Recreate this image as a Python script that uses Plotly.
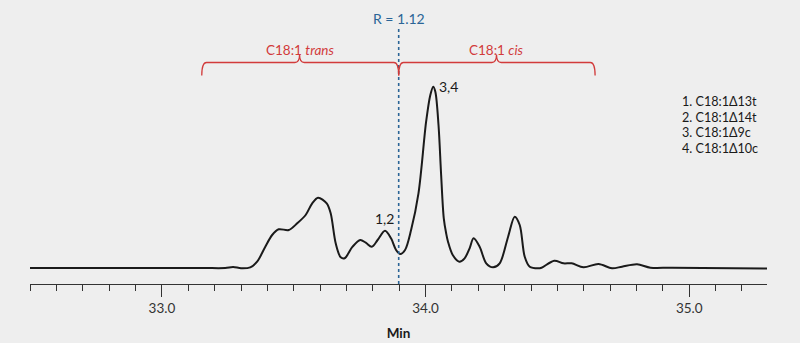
import plotly.graph_objects as go

# Retention time (min) and detector response (arbitrary units)
time_min = [32.4995, 33.15, 33.24, 33.27, 33.30, 33.335, 33.361, 33.392, 33.418, 33.443,
            33.481, 33.513, 33.545, 33.570, 33.592, 33.625, 33.640, 33.659, 33.678, 33.693,
            33.723, 33.752, 33.773, 33.796, 33.818, 33.846, 33.869, 33.888, 33.904, 33.922,
            33.945, 33.973, 34.002, 34.018, 34.029, 34.037, 34.049, 34.059, 34.069, 34.078,
            34.085, 34.103, 34.128, 34.148, 34.167, 34.182, 34.205, 34.230, 34.256, 34.281,
            34.313, 34.338, 34.357, 34.376, 34.395, 34.427, 34.440, 34.488, 34.523, 34.554,
            34.599, 34.656, 34.707, 34.745, 34.802, 34.853, 34.935, 35.295]
response = [0.5, 0.5, 0.5, 1.5, 0.3, 1.2, 6.8, 21.8, 33.5, 39.2,
            38.5, 45.2, 53.5, 65.2, 70.8, 65.2, 55.2, 25.2, 11.2, 10.2,
            21.8, 28.5, 25.8, 21.8, 28.5, 37.8, 30.2, 18.5, 14.5, 18.5,
            38.5, 75.2, 146.8, 173.5, 181.8, 176.8, 143.5, 93.5, 50.2, 35.2,
            26.8, 13.5, 6.8, 10.2, 20.2, 30.2, 21.8, 5.2, 1.2, 5.2,
            31.8, 51.8, 43.5, 11.8, 1.8, 0.2, 0.8, 7.8, 5.2, 5.2,
            1.2, 4.5, 0.2, 1.8, 4.2, 0.8, 0.8, 0.0]

# Peak labels
peak_labels = ["1,2", "3,4"]
peak_times = [33.846, 34.029]
peak_heights = [37.8, 181.8]

# Identification list
compounds = ["1. C18:1Δ13t", "2. C18:1Δ14t", "3. C18:1Δ9c", "4. C18:1Δ10c"]

# Resolution marker and cis/trans groups
resolution_time = 33.898
resolution_text = "R = 1.12"
group_names = ["C18:1 <i>trans</i>", "C18:1 <i>cis</i>"]
group_bounds = [(33.151, 33.898), (33.898, 34.643)]
group_centers = [33.522, 34.269]

RED = "#d23b3b"
BLUE = "#2a6496"
FONT = "Lato"

fig = go.Figure()
fig.add_trace(go.Scatter(
    x=time_min, y=response, mode="lines",
    line=dict(color="#1a1a1a", width=2, shape="spline", smoothing=0.9),
    hoverinfo="skip", showlegend=False,
))

# Dotted resolution line
fig.add_shape(type="line", xref="x", yref="y",
              x0=resolution_time, x1=resolution_time, y0=-15.5, y1=240,
              line=dict(color=BLUE, width=1.6, dash="dot"))
fig.add_annotation(x=resolution_time, y=250.5, xref="x", yref="y",
                   text=resolution_text, showarrow=False,
                   font=dict(family=FONT, size=14, color=BLUE),
                   xanchor="center", yanchor="middle")

# Curly braces for the trans / cis groups
line_y, end_y, cusp_y = 206.0, 193.0, 214.0
r = 0.018
for (a, b), c, name in zip(group_bounds, group_centers, group_names):
    path = (f"M {a},{end_y} Q {a},{line_y} {a + r},{line_y} "
            f"L {c - r},{line_y} Q {c},{line_y} {c},{cusp_y} "
            f"Q {c},{line_y} {c + r},{line_y} "
            f"L {b - r},{line_y} Q {b},{line_y} {b},{end_y}")
    fig.add_shape(type="path", xref="x", yref="y", path=path,
                  line=dict(color=RED, width=1.3))
    fig.add_annotation(x=c, y=218.5, xref="x", yref="y", text=name,
                       showarrow=False, xanchor="center", yanchor="middle",
                       font=dict(family=FONT, size=13.5, color=RED))

# Peak labels
fig.add_annotation(x=peak_times[0], y=peak_heights[0], xref="x", yref="y",
                   text=peak_labels[0], showarrow=False, xanchor="center",
                   yanchor="bottom", yshift=2,
                   font=dict(family=FONT, size=14, color="#1a1a1a"))
fig.add_annotation(x=peak_times[1], y=peak_heights[1], xref="x", yref="y",
                   text=peak_labels[1], showarrow=False, xanchor="left",
                   yanchor="middle", xshift=4,
                   font=dict(family=FONT, size=14, color="#1a1a1a"))

# Compound list
for i, txt in enumerate(compounds):
    fig.add_annotation(x=34.966, y=166.8 - i * 15.5, xref="x", yref="y",
                       text=txt, showarrow=False, xanchor="left",
                       yanchor="middle",
                       font=dict(family=FONT, size=12.6, color="#1a1a1a"))

fig.update_layout(
    width=800, height=343,
    margin=dict(l=30, r=33, t=0, b=59),
    paper_bgcolor="#eeeeee", plot_bgcolor="#eeeeee",
    font=dict(family=FONT, size=13, color="#333333"),
    showlegend=False,
)
fig.update_xaxes(
    range=[32.4995, 35.295],
    showgrid=False, zeroline=False,
    showline=True, linecolor="#333333", linewidth=1.3,
    ticks="outside", ticklen=12, tickwidth=1.3, tickcolor="#333333",
    tick0=33.0, dtick=1.0, tickformat=".1f",
    tickfont=dict(family=FONT, size=13.5, color="#333333"),
    minor=dict(ticks="outside", ticklen=6, tickwidth=1.3,
               tickcolor="#333333", tick0=32.5, dtick=0.1, showgrid=False),
    title=dict(text="<b>Min</b>", standoff=13,
               font=dict(family=FONT, size=13.5, color="#1a1a1a")),
)
fig.update_yaxes(range=[-15.5, 268.5], visible=False)

fig.write_html("out.html")
